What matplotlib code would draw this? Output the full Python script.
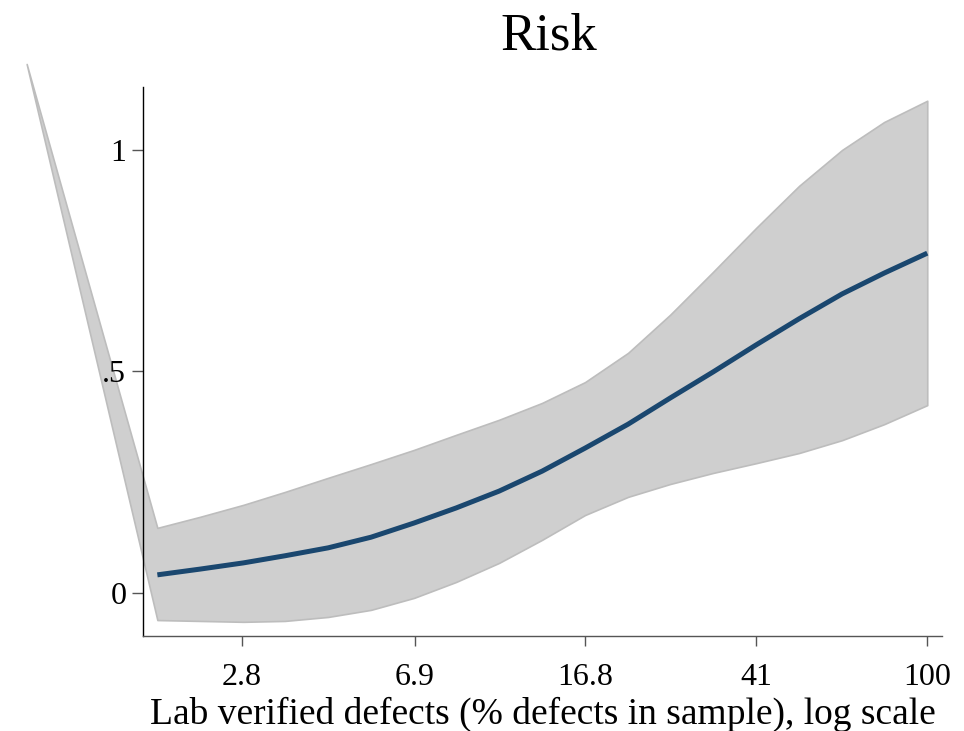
import matplotlib
matplotlib.use("Agg")
import matplotlib.pyplot as plt

# Predicted risk by lab-verified defect share (percent, log axis)
defects_pct = [0.91, 1.80, 2.25, 2.82, 3.50, 4.39, 5.49, 6.87, 8.56, 10.71, 13.40,
               16.77, 20.99, 26.14, 32.72, 40.95, 51.25, 64.13, 79.86, 100.0]
risk_upper = [1.194, 0.147, 0.172, 0.199, 0.228, 0.260, 0.291, 0.323, 0.357, 0.391,
              0.429, 0.476, 0.542, 0.628, 0.725, 0.824, 0.919, 1.000, 1.063, 1.111]
risk_lower = [1.194, -0.061, -0.063, -0.065, -0.063, -0.054, -0.038, -0.011, 0.025,
              0.068, 0.120, 0.176, 0.217, 0.246, 0.271, 0.293, 0.316, 0.345, 0.381, 0.424]
risk_fit = [0.041, 0.054, 0.068, 0.084, 0.102, 0.126, 0.158, 0.192, 0.230, 0.275,
            0.327, 0.381, 0.440, 0.499, 0.560, 0.619, 0.675, 0.722, 0.767]

x_ticks = [2.8, 6.9, 16.8, 41, 100]
x_tick_labels = ["2.8", "6.9", "16.8", "41", "100"]
y_ticks = [0, 0.5, 1]
y_tick_labels = ["0", ".5", "1"]

serif = ["Liberation Serif", "DejaVu Serif"]

fig = plt.figure(figsize=(9.64, 7.31), dpi=100)
ax = fig.add_axes([143 / 964, 1 - 636 / 731, (942 - 143) / 964, (636 - 87) / 731])

ax.fill_between(defects_pct, risk_lower, risk_upper, facecolor="#cfcfcf",
                edgecolor="#bdbdbd", linewidth=1.2, clip_on=False, zorder=1)
ax.plot(defects_pct[1:], risk_fit, color="#1a476f", linewidth=3.6,
        solid_capstyle="butt", zorder=2)

ax.set_xscale("log")
ax.set_xlim(1.67, 108)
ax.set_ylim(-0.097, 1.142)

ax.set_xticks(x_ticks)
ax.set_xticklabels(x_tick_labels)
ax.minorticks_off()
ax.set_yticks(y_ticks)
ax.set_yticklabels(y_tick_labels)

for s in ("top", "right"):
    ax.spines[s].set_visible(False)
ax.spines["left"].set_color("black")
ax.spines["left"].set_linewidth(1.0)
ax.spines["bottom"].set_color("#555555")
ax.spines["bottom"].set_linewidth(1.0)

ax.tick_params(axis="x", length=7, width=1, color="#555555", pad=12.5,
               labelsize=23)
ax.tick_params(axis="y", length=8, width=1, color="#555555", pad=4,
               labelsize=23)
for lab in ax.get_xticklabels() + ax.get_yticklabels():
    lab.set_family(serif)

ax.set_xlabel("Lab verified defects (% defects in sample), log scale",
              family=serif, fontsize=27)
ax.xaxis.set_label_coords(0.5, -0.11)
fig.text(549 / 964, 1 - 50 / 731, "Risk", family=serif, fontsize=38,
         ha="center", va="baseline")

fig.savefig("out.png", dpi=100)
